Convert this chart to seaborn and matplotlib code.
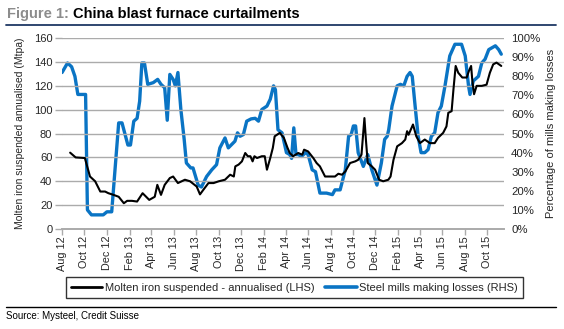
import matplotlib
matplotlib.use("Agg")
import matplotlib.pyplot as plt
import matplotlib.dates as mdates
from matplotlib.lines import Line2D
import seaborn as sns
import pandas as pd

# ---- data -------------------------------------------------------------
molten_dates = ["2012-08-23", "2012-09-07", "2012-10-02", "2012-10-16", "2012-10-30",
    "2012-11-13", "2012-11-26", "2012-12-05", "2012-12-19", "2013-01-02", "2013-01-16",
    "2013-01-25", "2013-02-07", "2013-02-21", "2013-03-08", "2013-03-26", "2013-04-10",
    "2013-04-17", "2013-04-27", "2013-05-07", "2013-05-21", "2013-05-30", "2013-06-12",
    "2013-07-01", "2013-07-15", "2013-08-02", "2013-08-11", "2013-08-20", "2013-09-03",
    "2013-09-17", "2013-10-01", "2013-10-18", "2013-11-01", "2013-11-11", "2013-11-15",
    "2013-11-24", "2013-12-03", "2013-12-12", "2013-12-19", "2013-12-26", "2014-01-01",
    "2014-01-06", "2014-01-13", "2014-01-26", "2014-02-03", "2014-02-09", "2014-02-18",
    "2014-02-25", "2014-03-02", "2014-03-16", "2014-03-27", "2014-04-06", "2014-04-12",
    "2014-04-21", "2014-05-05", "2014-05-16", "2014-05-21", "2014-06-01", "2014-06-15",
    "2014-06-24", "2014-07-03", "2014-07-17", "2014-07-31", "2014-08-13", "2014-08-22",
    "2014-09-01", "2014-09-10", "2014-09-23", "2014-10-07", "2014-10-15", "2014-10-24",
    "2014-11-01", "2014-11-05", "2014-11-10", "2014-11-21", "2014-11-30", "2014-12-11",
    "2014-12-22", "2015-01-05", "2015-01-11", "2015-01-19", "2015-01-29", "2015-02-11",
    "2015-02-20", "2015-02-25", "2015-03-01", "2015-03-13", "2015-03-22", "2015-04-01",
    "2015-04-14", "2015-04-28", "2015-05-11", "2015-05-20", "2015-06-03", "2015-06-12",
    "2015-06-17", "2015-06-26", "2015-07-01", "2015-07-07", "2015-07-14", "2015-07-25",
    "2015-08-06", "2015-08-12", "2015-08-18", "2015-08-21", "2015-08-26", "2015-09-02",
    "2015-09-16", "2015-09-29", "2015-10-08", "2015-10-17", "2015-10-26", "2015-11-08"]
molten_mtpa = [64, 60, 59.5, 44, 40,
    31.4, 31.4, 30, 28.6, 27, 21.6,
    23.6, 23.6, 23, 30, 24.4, 27,
    37, 28.6, 37, 42.7, 44, 38.5,
    41.3, 40, 35.6, 29, 32.8, 38.5,
    38.5, 40, 41.3, 45.5, 44, 52.5,
    54, 56.7, 63.7, 61, 61, 56.7,
    61, 59.5, 61, 61, 49.7, 59.5,
    68, 77.7, 80.6, 76.4, 68, 63.7,
    61, 63.7, 62.3, 66.5, 65, 59.5,
    55.3, 52.5, 44, 44, 44, 46.3,
    45.5, 48.2, 55.3, 56.7, 58, 62.3,
    93, 75, 55.3, 52.5, 49.7, 41.3,
    40, 41.3, 44, 58, 69.3, 72,
    75, 82, 79, 87.6, 77.7, 72,
    75, 72, 72, 76.4, 80.6, 86,
    97.4, 98.8, 117, 136.7, 131, 127,
    127, 132.5, 136.7, 125.5, 113, 120,
    120, 121, 131, 138, 139.5, 136.7]

loss_dates = ["2012-08-01", "2012-08-16", "2012-08-27", "2012-09-05", "2012-09-13",
    "2012-10-04", "2012-10-09", "2012-10-20", "2012-11-21", "2012-12-01", "2012-12-14",
    "2013-01-02", "2013-01-11", "2013-01-27", "2013-02-03", "2013-02-12", "2013-02-21",
    "2013-02-28", "2013-03-06", "2013-03-13", "2013-03-22", "2013-04-06", "2013-04-18",
    "2013-04-27", "2013-05-07", "2013-05-14", "2013-05-21", "2013-05-30", "2013-06-05",
    "2013-06-12", "2013-06-20", "2013-06-29", "2013-07-05", "2013-07-17", "2013-07-23",
    "2013-08-06", "2013-08-15", "2013-08-29", "2013-09-12", "2013-09-25", "2013-10-04",
    "2013-10-18", "2013-10-27", "2013-11-14", "2013-11-21", "2013-11-28", "2013-12-07",
    "2013-12-16", "2013-12-28", "2014-01-08", "2014-01-17", "2014-01-26", "2014-02-09",
    "2014-02-18", "2014-02-27", "2014-03-04", "2014-03-11", "2014-03-22", "2014-04-03",
    "2014-04-12", "2014-04-17", "2014-04-23", "2014-04-29", "2014-05-05", "2014-05-14",
    "2014-05-25", "2014-06-01", "2014-06-12", "2014-06-21", "2014-07-03", "2014-07-21",
    "2014-08-06", "2014-08-13", "2014-08-27", "2014-09-10", "2014-09-19", "2014-09-26",
    "2014-10-02", "2014-10-08", "2014-10-15", "2014-10-29", "2014-11-10", "2014-11-21",
    "2014-12-05", "2014-12-17", "2014-12-26", "2015-01-02", "2015-01-06", "2015-01-15",
    "2015-01-29", "2015-02-07", "2015-02-16", "2015-02-25", "2015-03-05", "2015-03-11",
    "2015-03-18", "2015-03-27", "2015-04-04", "2015-04-14", "2015-04-23", "2015-05-02",
    "2015-05-11", "2015-05-20", "2015-05-29", "2015-06-08", "2015-06-21", "2015-07-05",
    "2015-07-23", "2015-08-02", "2015-08-11", "2015-08-15", "2015-08-24", "2015-09-07",
    "2015-09-16", "2015-09-25", "2015-10-05", "2015-10-14", "2015-10-23", "2015-11-01",
    "2015-11-08"]
loss_pct = [82, 87, 85, 80, 70.5,
    70.5, 10, 7.4, 7.4, 9, 9,
    55.6, 55.6, 44, 44, 56.5, 58,
    67, 87, 87, 75.8, 76.7, 78.4,
    75.8, 74, 57, 81, 78.4, 75,
    82, 62.6, 47, 34.6, 32, 32,
    23, 22, 27.5, 31, 33.7, 42.5,
    47.7, 42.5, 46, 50.4, 48.6, 49.5,
    56.5, 57.7, 58, 56.5, 62.6, 64.4,
    68, 75, 73, 52, 50.4, 40,
    39, 37, 53, 39, 39, 38,
    40, 39, 31, 30, 18.8, 18.8,
    18, 20.5, 20.5, 31, 48.6, 49.5,
    54, 54, 40, 32.8, 39, 31,
    23, 34.6, 47, 48.6, 52, 64.4,
    75, 75.8, 75, 80, 82, 80,
    66, 48.6, 40, 40, 41.6, 48.6,
    50.4, 61, 64.4, 75, 90.7, 96.8,
    96.8, 90.7, 75, 70.5, 77.6, 80,
    87, 89, 94, 95, 96, 94,
    91.6]

lhs_ticks = [0, 20, 40, 60, 80, 100, 120, 140, 160]
rhs_ticks = [0, 10, 20, 30, 40, 50, 60, 70, 80, 90, 100]
title_prefix = "Figure 1: "
title_main = "China blast furnace curtailments"
lhs_label = "Molten iron suspended annualised (Mtpa)"
rhs_label = "Percentage of mills making losses"
molten_name = "Molten iron suspended - annualised (LHS)"
loss_name = "Steel mills making losses (RHS)"
source_text = "Source: Mysteel, Credit Suisse"

# ---- figure ----------------------------------------------------------
sns.set_theme(style="white")
plt.rcParams["font.family"] = ["Liberation Sans", "DejaVu Sans"]

BLUE = "#0A74C4"
GRID = "#ABABAB"

df_m = pd.DataFrame({"date": pd.to_datetime(molten_dates), "v": molten_mtpa})
df_l = pd.DataFrame({"date": pd.to_datetime(loss_dates), "v": loss_pct})

fig = plt.figure(figsize=(5.64, 3.29), dpi=100)
ax = fig.add_axes([0.110, 0.304, 0.784, 0.580])
ax2 = ax.twinx()

sns.lineplot(data=df_l, x="date", y="v", ax=ax2, color=BLUE, linewidth=2.4, zorder=2)
sns.lineplot(data=df_m, x="date", y="v", ax=ax, color="black", linewidth=1.5, zorder=3)
ax.set_zorder(ax2.get_zorder() + 1)
ax.patch.set_visible(False)

ax.set_ylim(0, 160)
ax2.set_ylim(0, 100)
ax.set_yticks(lhs_ticks)
ax2.set_yticks(rhs_ticks)
ax2.set_yticklabels([f"{t}%" for t in rhs_ticks])
ax.set_xlim(pd.Timestamp("2012-08-01"), pd.Timestamp("2015-11-16"))

ax.xaxis.set_major_locator(mdates.MonthLocator(bymonth=[2, 4, 6, 8, 10, 12]))
ax.xaxis.set_major_formatter(mdates.DateFormatter("%b %y"))
for lab in ax.get_xticklabels():
    lab.set_rotation(90)

ax.grid(axis="y", color=GRID, linewidth=1.0)
ax2.grid(False)
ax.set_axisbelow(True)
for a in (ax, ax2):
    for s in ("top", "left", "right"):
        a.spines[s].set_visible(False)
    a.spines["bottom"].set_color(GRID)
    a.set_xlabel("")

ax.tick_params(axis="y", labelsize=8, length=5, color=GRID, width=1, pad=2, left=True)
ax.tick_params(axis="x", labelsize=7.8, length=4, color=GRID, width=1, pad=1, bottom=True)
ax2.tick_params(axis="y", labelsize=8.2, length=0, pad=5, right=False)

ax.set_ylabel(lhs_label, fontsize=7.5, labelpad=6)
ax2.set_ylabel(rhs_label, fontsize=8, labelpad=4)

# legend
handles = [Line2D([0], [0], color="black", linewidth=2),
           Line2D([0], [0], color=BLUE, linewidth=2.6)]
leg = fig.legend(handles, [molten_name, loss_name], loc="center",
                 bbox_to_anchor=(0.522, 0.126), ncol=2, fontsize=8,
                 frameon=True, fancybox=False, handlelength=2.8,
                 handletextpad=0.2, columnspacing=1.0, borderpad=0.5)
leg.get_frame().set_edgecolor("black")
leg.get_frame().set_linewidth(1.0)

# title
t1 = fig.text(0.012, 0.956, title_prefix, fontsize=10.5, fontweight="bold",
              color="#8C8C8C", va="center", ha="left")
fig.canvas.draw()
bb = t1.get_window_extent(renderer=fig.canvas.get_renderer())
x_next = bb.x1 / fig.bbox.width
fig.text(x_next, 0.956, title_main, fontsize=10.5, fontweight="bold",
         color="black", va="center", ha="left")

fig.add_artist(Line2D([0.010, 0.986], [0.923, 0.923], transform=fig.transFigure,
                      color="#1F3864", linewidth=1.3))
fig.add_artist(Line2D([0.010, 0.986], [0.068, 0.068], transform=fig.transFigure,
                      color="black", linewidth=1.0))
fig.text(0.010, 0.038, source_text, fontsize=7, color="black", va="center", ha="left")

fig.savefig("out.png", dpi=100)
